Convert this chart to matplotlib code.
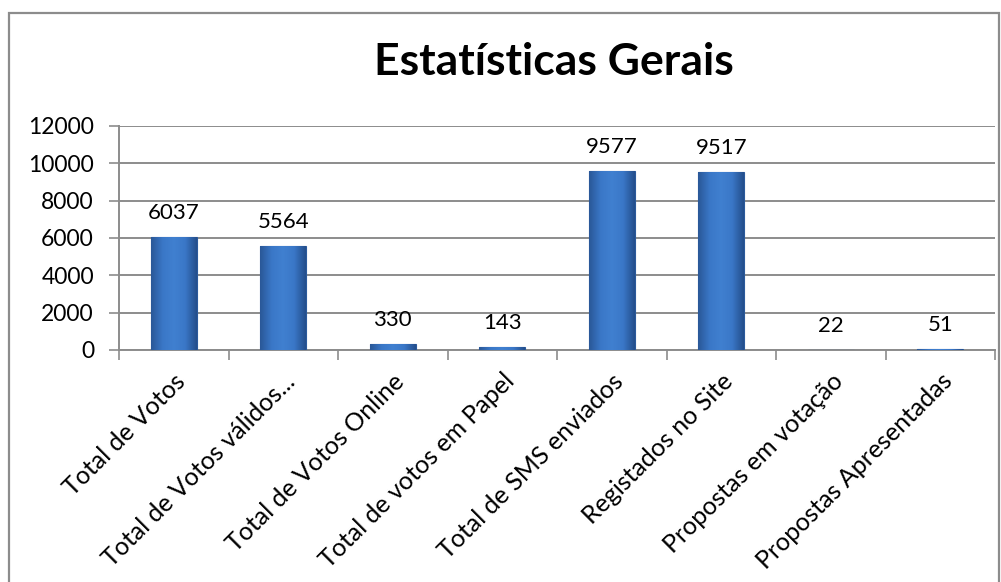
import numpy as np
import matplotlib.pyplot as plt
from matplotlib.patches import Rectangle
from matplotlib.colors import LinearSegmentedColormap

categorias = [
    "Total de Votos",
    "Total de Votos válidos...",
    "Total de Votos Online",
    "Total de votos em Papel",
    "Total de SMS enviados",
    "Registados no Site",
    "Propostas em votação",
    "Propostas Apresentadas",
]
valores = [6037, 5564, 330, 143, 9577, 9517, 22, 51]
yticks = [0, 2000, 4000, 6000, 8000, 10000, 12000]

plt.rcParams["font.family"] = ["Lato", "DejaVu Sans"]

fig = plt.figure(figsize=(10.01, 5.82), dpi=100)
ax = fig.add_axes([119 / 1001, 1 - 350 / 582, 876 / 1001, 224 / 582])

# moldura do gráfico
fig.patches.append(Rectangle((9 / 1001, -0.1), 990 / 1001, 1.1 - 13 / 582,
                             transform=fig.transFigure, fill=False,
                             edgecolor="#8c8c8c", linewidth=1.6))

x = np.arange(len(categorias))
bars = ax.bar(x, valores, width=0.42, color="#3a74c2",
              edgecolor="#2b5a9c", linewidth=0.8, zorder=3)

# gradiente horizontal para imitar o efeito "bevel"
cmap = LinearSegmentedColormap.from_list(
    "bevel", ["#2a5898", "#3a77c7", "#4080d0", "#3a77c7", "#244f8c"])
grad = np.linspace(0, 1, 64).reshape(1, -1)
for bar in bars:
    bx, bw, bh = bar.get_x(), bar.get_width(), bar.get_height()
    im = ax.imshow(grad, cmap=cmap, aspect="auto", zorder=3.5,
                   extent=[bx, bx + bw, 0, bh], interpolation="bicubic")
    im.set_clip_path(bar)

for bar, v in zip(bars, valores):
    ax.annotate(f"{v}", (bar.get_x() + bar.get_width() / 2, v),
                xytext=(0, 10), textcoords="offset points",
                ha="center", va="bottom", fontsize=16)

ax.set_xlim(-0.5, len(categorias) - 0.5)
ax.set_ylim(0, 12000)
ax.set_yticks(yticks)
ax.tick_params(axis="y", labelsize=16.5, length=7, width=1.2,
               color="#8c8c8c", pad=11)

ax.set_xticks(x)
ax.set_xticklabels(categorias, rotation=45, ha="right",
                   rotation_mode="anchor", fontsize=18)
ax.tick_params(axis="x", length=0, pad=14)
ax.set_xticks(np.arange(len(categorias) + 1) - 0.5, minor=True)
ax.tick_params(axis="x", which="minor", length=7, width=1.2,
               color="#8c8c8c")

ax.grid(axis="y", color="#8c8c8c", linewidth=1.4, zorder=0)
ax.set_axisbelow(True)
for s in ["top", "right"]:
    ax.spines[s].set_visible(False)
for s in ["left", "bottom"]:
    ax.spines[s].set_color("#8c8c8c")
    ax.spines[s].set_linewidth(1.4)

fig.text(554 / 1001, 1 - 62 / 582, "Estatísticas Gerais",
         ha="center", va="center", fontsize=32, fontweight="bold")

fig.savefig("out.png", dpi=100)
